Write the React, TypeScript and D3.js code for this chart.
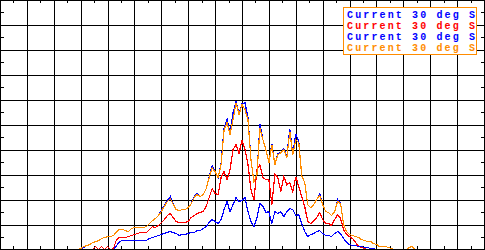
import * as d3 from 'd3';
import { useEffect, useRef } from 'react';

const width = 485;
const height = 250;

const colors = ['#0000ff', '#ff0000', '#0000ff', '#ff8c00'];
const legendLabels = [
  'Current 30 deg S',
  'Current 30 deg S',
  'Current 30 deg S',
  'Current 30 deg S',
];

// channel grid the spectra are sampled on
const channels = d3.range(78, 418, 3);

const upperBlue = [
  0, 0, 2, 4, 5, 7, 8, 9, 11, 12,
  13, 13, 14, 18, 20, 20, 19, 18, 21, 22,
  22, 22, 22, 23, 26, 29, 31, 34, 39, 44,
  49, 53, 45, 40, 39, 40, 40, 42, 46, 53,
  56, 53, 55, 61, 73, 84, 78, 72, 86, 122,
  131, 116, 137, 148, 136, 146, 147, 132, 90, 68,
  75, 126, 110, 100, 87, 106, 85, 96, 97, 101,
  93, 121, 95, 116, 108, 74, 67, 45, 42, 45,
  50, 56, 45, 38, 37, 34, 38, 50, 46, 25,
  18, 15, 14, 13, 12, 10, 9, 8, 8, 6,
  5, 3, 3, 3, 2, 1, 0, 0, 0, 0,
  0, 2, 3, 0,
];

const red = [
  0, 0, 0, 0, 0, 0, 3, 0, 3, 0,
  3, 0, 1, 10, 12, 12, 12, 13, 14, 15,
  16, 17, 17, 17, 20, 23, 22, 24, 27, 30,
  34, 36, 32, 28, 27, 27, 27, 28, 32, 34,
  36, 37, 38, 43, 52, 61, 56, 55, 72, 78,
  70, 80, 100, 105, 96, 110, 100, 85, 60, 50,
  80, 85, 72, 70, 70, 45, 75, 72, 58, 73,
  65, 67, 58, 73, 63, 53, 43, 28, 26, 29,
  32, 37, 30, 26, 26, 24, 30, 35, 31, 20,
  15, 13, 11, 7, 3, 2, 1, 0, 0, 0,
  0, 0, 0, 0, 0, 0, 0, 0, 0, 0,
  0, 0, 0, 0,
];

const lowerBlue = [
  0, 0, 0, 0, 0, 0, 0, 0, 0, 0,
  0, 0, 0, 4, 8, 9, 9, 9, 9, 9,
  9, 9, 9, 9, 11, 12, 13, 14, 15, 16,
  17, 18, 17, 16, 14, 15, 15, 16, 17, 17,
  19, 19, 21, 23, 27, 30, 28, 26, 30, 40,
  48, 38, 45, 52, 48, 49, 52, 38, 28, 23,
  32, 46, 43, 37, 38, 26, 38, 36, 38, 33,
  38, 41, 40, 34, 35, 26, 18, 13, 15, 16,
  18, 19, 16, 14, 14, 13, 16, 18, 16, 11,
  7, 5, 4, 4, 3, 3, 2, 2, 1, 1,
  0, 0, 0, 0, 0, 0, 0, 0, 0, 0,
  0, 0, 0, 0,
];

const orange = [
  0, 1, 3, 4, 5, 7, 8, 9, 11, 12,
  13, 13, 14, 18, 20, 20, 19, 18, 21, 22,
  22, 22, 22, 23, 26, 29, 31, 34, 38, 43,
  48, 51, 45, 40, 39, 40, 40, 42, 46, 52,
  55, 53, 55, 61, 72, 82, 78, 72, 85, 120,
  127, 115, 130, 147, 135, 145, 140, 130, 90, 68,
  75, 122, 110, 100, 87, 105, 85, 95, 97, 100,
  92, 118, 95, 110, 107, 74, 67, 45, 42, 45,
  50, 54, 45, 38, 37, 34, 38, 48, 46, 25,
  18, 15, 14, 13, 12, 10, 9, 8, 8, 6,
  5, 3, 3, 3, 2, 1, 0, 0, 0, 0,
  0, 2, 3, 0,
];

const series = [upperBlue, red, lowerBlue, orange];

const App = () => {
  const ref = useRef<SVGSVGElement | null>(null);

  useEffect(() => {
    if (!ref.current) return;
    const svg = d3.select(ref.current);
    svg.selectAll('*').remove();

    const xScale = d3.scaleLinear().domain([0, 486]).range([0, 484]);
    const yScale = d3.scaleLinear().domain([0, 250]).range([249.5, 0]);
    const crisp = (v: number) => Math.round(v) + 0.5;

    svg
      .append('rect')
      .attr('width', width)
      .attr('height', height)
      .attr('fill', 'white');

    // grid
    const grid = svg
      .append('g')
      .attr('stroke', 'black')
      .attr('stroke-width', 1)
      .attr('shape-rendering', 'crispEdges');

    grid
      .selectAll('line.vx')
      .data(d3.range(27, 486, 27))
      .join('line')
      .attr('x1', (d) => crisp(xScale(d)))
      .attr('x2', (d) => crisp(xScale(d)))
      .attr('y1', 0)
      .attr('y2', height);

    grid
      .selectAll('line.hy')
      .data(d3.range(25, 250, 25))
      .join('line')
      .attr('class', 'hy')
      .attr('x1', 0)
      .attr('x2', width)
      .attr('y1', (d) => crisp(yScale(d)))
      .attr('y2', (d) => crisp(yScale(d)));

    // minor ticks on all four sides
    const tickLen = 3;
    const minorX = d3.range(13.5, 486, 27);
    const minorY = d3.range(12.5, 250, 25);
    minorX.forEach((d) => {
      const x = crisp(xScale(d));
      grid.append('line').attr('x1', x).attr('x2', x).attr('y1', 0).attr('y2', tickLen);
      grid
        .append('line')
        .attr('x1', x)
        .attr('x2', x)
        .attr('y1', height - tickLen - 1)
        .attr('y2', height);
    });
    minorY.forEach((d) => {
      const y = crisp(yScale(d));
      grid.append('line').attr('x1', 0).attr('x2', tickLen + 1).attr('y1', y).attr('y2', y);
      grid
        .append('line')
        .attr('x1', width - tickLen - 1)
        .attr('x2', width)
        .attr('y1', y)
        .attr('y2', y);
    });

    const line = d3
      .line<number>()
      .x((_, i) => xScale(channels[i]))
      .y((d) => yScale(d));

    svg
      .append('g')
      .selectAll('path')
      .data(series)
      .join('path')
      .attr('d', (d) => line(d))
      .attr('fill', 'none')
      .attr('stroke', (_, i) => colors[i])
      .attr('stroke-width', 1.2)
      .attr('shape-rendering', 'crispEdges');

    // frame
    svg
      .append('rect')
      .attr('x', 0.5)
      .attr('y', 0.5)
      .attr('width', width - 1)
      .attr('height', height - 1)
      .attr('fill', 'none')
      .attr('stroke', 'black')
      .attr('shape-rendering', 'crispEdges');

    // legend
    const legend = svg.append('g');
    legend
      .append('rect')
      .attr('x', 343.5)
      .attr('y', 7.5)
      .attr('width', 133)
      .attr('height', 47)
      .attr('fill', 'white')
      .attr('stroke', colors[3])
      .attr('shape-rendering', 'crispEdges');

    legend
      .selectAll('text')
      .data(legendLabels)
      .join('text')
      .attr('x', 347)
      .attr('y', (_, i) => 17.5 + i * 11)
      .attr('fill', (_, i) => colors[i])
      .attr('font-family', 'Liberation Mono, DejaVu Sans Mono, monospace')
      .attr('font-size', 10)
      .attr('font-weight', 'bold')
      .attr('textLength', 128)
      .attr('lengthAdjust', 'spacing')
      .text((d) => d);
  }, []);

  return (
    <svg
      ref={ref}
      width={width}
      height={height}
      style={{ position: 'absolute', left: 0, top: 0 }}
    />
  );
};

export default App;
